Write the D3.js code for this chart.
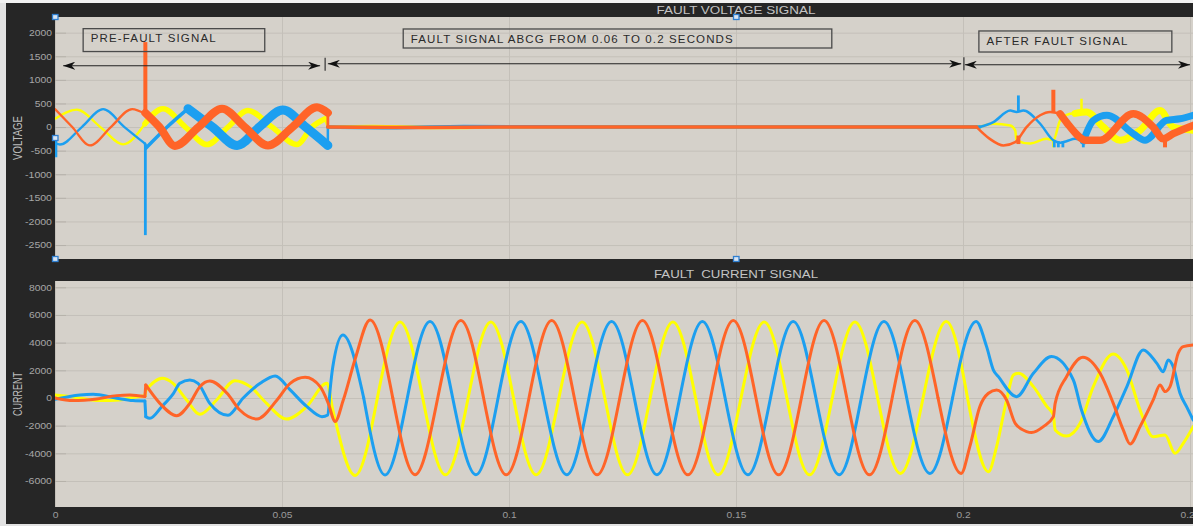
<!DOCTYPE html>
<html><head><meta charset="utf-8">
<script src="https://cdn.jsdelivr.net/npm/d3@7"></script>
<style>
body{margin:0;background:#262626;overflow:hidden}
svg{display:block;font-family:"Liberation Sans",Arial,sans-serif}
</style></head>
<body><svg id="c" width="1193" height="526"></svg>
<script>
// ---------------- tick labels ----------------
const timeTicks = [0, 0.05, 0.1, 0.15, 0.2, 0.25];
const voltTicks = [2000, 1500, 1000, 500, 0, -500, -1000, -1500, -2000, -2500];
const currTicks = [8000, 6000, 4000, 2000, 0, -2000, -4000, -6000];

// ---------------- voltage (time s, volts) ----------------
const voltY_pre   = [[0,175],[0.0048,370],[0.0100,0],[0.0150,-365],[0.0198,70]];
const voltY_dist  = [[0.0198,70],[0.0238,390],[0.0287,0],[0.0335,-370],[0.0381,0],[0.0425,350],[0.0478,0],[0.0533,-370],[0.0566,0],[0.0595,175]];
const voltY_fault = [[0.0601,0],[0.0700,12],[0.0850,-12],[0.1000,5],[0.1500,0],[0.2037,0]];
const voltY_post1 = [[0.2037,0],[0.2067,70],[0.2104,35],[0.2115,-70],[0.2118,-280],[0.2148,-350],[0.2184,-250],[0.2199,-280],[0.2214,140],[0.2236,280],[0.2247,290]];
const voltY_post2 = [[0.2247,290],[0.2272,320],[0.2309,0],[0.2346,-280],[0.2390,-70],[0.2434,350],[0.2463,0],[0.2507,-70]];
const voltY_spikes = [[[0.2199,-250],[0.2199,-430]],[[0.2261,300],[0.2261,600]]];

const voltB_pre   = [[0,-340],[0.0011,-370],[0.0059,0],[0.0106,380],[0.0153,0],[0.0198,-350]];
const voltB_dist1 = [[0.0200,-450],[0.0247,0],[0.0293,390]];
const voltB_dist2 = [[0.0293,390],[0.0347,0],[0.0401,-390],[0.0450,0],[0.0502,360],[0.0552,0],[0.0601,-390]];
const voltB_fault = [[0.0601,0],[0.0750,-15],[0.0900,12],[0.1200,0],[0.2037,0]];
const voltB_post1 = [[0.2037,0],[0.2067,105],[0.2104,350],[0.2118,320],[0.2133,350],[0.2170,70],[0.2199,-280],[0.2214,-330],[0.2228,-300],[0.2247,-250],[0.2265,-300]];
const voltB_post2 = [[0.2265,-300],[0.2287,140],[0.2317,250],[0.2375,-140],[0.2401,-280],[0.2448,140],[0.2478,175],[0.2507,250]];
const voltB_spikes = [[[0.0002,-640],[0.0002,-250]],[[0.0199,-350],[0.0199,-2290]],[[0.2122,330],[0.2122,670]],[[0.2201,-280],[0.2201,-430]],[[0.2210,-300],[0.2210,-430]],[[0.2220,-300],[0.2220,-430]],[[0.2265,-250],[0.2265,-430]]];

const voltO_pre   = [[0,380],[0.0038,0],[0.0077,-390],[0.0123,0],[0.0170,380],[0.0198,280]];
const voltO_dist  = [[0.0199,300],[0.0230,0],[0.0264,-400],[0.0316,0],[0.0368,390],[0.0418,0],[0.0469,-390],[0.0523,0],[0.0577,420],[0.0601,300]];
const voltO_fault = [[0.0601,0],[0.0800,-8],[0.1000,0],[0.1500,0],[0.2030,0]];
const voltO_post1 = [[0.2030,0],[0.2059,-250],[0.2089,-390],[0.2115,-320],[0.2140,0],[0.2170,250],[0.2192,320],[0.2214,280]];
const voltO_post2 = [[0.2214,280],[0.2228,100],[0.2272,-280],[0.2302,-280],[0.2375,280],[0.2419,0],[0.2441,-250],[0.2463,-140],[0.2507,35]];
const voltO_spikes = [[[0.0199,280],[0.0199,1800]],[[0.2122,-180],[0.2122,-360]],[[0.2199,320],[0.2199,790]],[[0.2445,-250],[0.2445,-430]]];

// ---------------- current (time s, amperes) ----------------
const currY_pre   = [[0,220],[0.0033,100],[0.0099,-190],[0.0143,-145],[0.0172,50],[0.0198,145]];
const currY_dist  = [[0.0200,580],[0.0236,1420],[0.0260,1060],[0.0290,-145],[0.0319,-1180],[0.0356,-145],[0.0396,1250],[0.0430,820],[0.0466,-390],[0.0510,-1520],[0.0554,-630],[0.0599,1060],[0.0612,-870],[0.0661,-5600],[0.0710,0]];
const currY_fault = [[0.0710,0],[0.0760,5500],[0.0810,0],[0.0860,-5550],[0.0910,0],[0.0960,5500],[0.1010,0],[0.1060,-5550],[0.1110,0],[0.1161,5500],[0.1211,0],[0.1261,-5550],[0.1311,0],[0.1361,5500],[0.1411,0],[0.1461,-5550],[0.1511,0],[0.1562,5500],[0.1612,0],[0.1662,-5550],[0.1712,0],[0.1762,5500],[0.1812,0],[0.1862,-5450],[0.1912,0],[0.1963,5520],[0.2010,0]];
const currY_post  = [[0.2010,0],[0.2015,-870],[0.2056,-5330],[0.2074,-3520],[0.2096,-145],[0.2111,1660],[0.2122,1780],[0.2155,820],[0.2185,-630],[0.2199,-1230],[0.2203,-2310],[0.2228,-2750],[0.2258,-1830],[0.2287,820],[0.2331,3180],[0.2361,2020],[0.2390,-870],[0.2419,-2800],[0.2445,-2670],[0.2467,-4000],[0.2485,-3280],[0.2507,-2070]];

const currB_pre   = [[0,-100],[0.0055,220],[0.0084,265],[0.0136,-25],[0.0172,-190],[0.0198,-220]];
const currB_dist  = [[0.0200,-1350],[0.0209,-1470],[0.0235,-630],[0.0261,340],[0.0275,1060],[0.0297,1300],[0.0315,1060],[0.0341,-390],[0.0381,-1250],[0.0414,-20],[0.0452,1060],[0.0485,1590],[0.0518,580],[0.0555,-630],[0.0588,-1350],[0.0601,-1230],[0.0606,600],[0.0612,2270],[0.0634,4550],[0.0680,0]];
const currB_fault = [[0.0680,0],[0.0727,-5570],[0.0776,0],[0.0826,5520],[0.0876,0],[0.0927,-5550],[0.0976,0],[0.1026,5520],[0.1076,0],[0.1127,-5550],[0.1176,0],[0.1226,5520],[0.1276,0],[0.1326,-5550],[0.1376,0],[0.1426,5520],[0.1476,0],[0.1526,-5550],[0.1576,0],[0.1626,5520],[0.1676,0],[0.1727,-5550],[0.1776,0],[0.1826,5520],[0.1876,0],[0.1927,-5450],[0.1977,0]];
const currB_post  = [[0.1977,0],[0.2029,5520],[0.2052,3710],[0.2067,2020],[0.2078,1540],[0.2118,95],[0.2155,1780],[0.2195,2990],[0.2243,1300],[0.2261,-870],[0.2298,-3150],[0.2331,-1350],[0.2361,820],[0.2397,3470],[0.2427,2500],[0.2441,1900],[0.2452,2750],[0.2463,2270],[0.2478,340],[0.2493,-660],[0.2507,-1590]];

const currO_pre   = [[0,0],[0.0040,-190],[0.0092,-70],[0.0136,170],[0.0165,220],[0.0198,100]];
const currO_dist  = [[0.0200,940],[0.0231,-390],[0.0268,-1280],[0.0297,-390],[0.0319,820],[0.0341,1230],[0.0379,340],[0.0407,-870],[0.0445,-1520],[0.0489,-150],[0.0518,1060],[0.0551,1490],[0.0584,820],[0.0602,-390],[0.0617,-1700],[0.0635,-150],[0.0661,2800],[0.0694,5640],[0.0744,0]];
const currO_fault = [[0.0744,0],[0.0793,-5550],[0.0843,0],[0.0894,5600],[0.0944,0],[0.0994,-5550],[0.1044,0],[0.1094,5600],[0.1144,0],[0.1194,-5550],[0.1244,0],[0.1294,5600],[0.1344,0],[0.1394,-5550],[0.1444,0],[0.1494,5600],[0.1544,0],[0.1594,-5550],[0.1644,0],[0.1694,5600],[0.1744,0],[0.1794,-5550],[0.1844,0],[0.1894,5600],[0.1945,0]];
const currO_post  = [[0.1945,0],[0.1996,-5450],[0.2015,-3520],[0.2037,-630],[0.2056,340],[0.2074,580],[0.2096,-145],[0.2115,-1830],[0.2140,-2430],[0.2151,-2500],[0.2177,-2070],[0.2199,-1350],[0.2203,-390],[0.2228,1540],[0.2264,2940],[0.2302,1780],[0.2331,-390],[0.2353,-2310],[0.2368,-3330],[0.2390,-2070],[0.2419,-145],[0.2434,940],[0.2445,460],[0.2456,820],[0.2474,3230],[0.2485,3710],[0.2507,3830]];

// ---------------- annotation texts ----------------
const noteTexts = ["PRE-FAULT SIGNAL", "FAULT SIGNAL ABCG FROM 0.06 TO 0.2 SECONDS", "AFTER FAULT SIGNAL"];

// =================== drawing ===================
const W = 1193, H = 526;
const COL = {y:"#ffff00", b:"#1c9ff0", o:"#ff6428"};
const svg = d3.select("#c");
svg.append("rect").attr("width",W).attr("height",H).attr("fill","#262626");
svg.append("rect").attr("x",0).attr("y",0).attr("width",6).attr("height",H).attr("fill","#e2e2e2");
svg.append("rect").attr("x",0).attr("y",0).attr("width",W).attr("height",3).attr("fill","#f2f2f2");
svg.append("rect").attr("x",0).attr("y",524).attr("width",W).attr("height",2).attr("fill","#e2e2e2");

const x = d3.scaleLinear().domain([0,0.25]).range([55,1190]);
const PL = 55, PR = 1200;

// width of a tick label in the (horizontally stretched) reference
const labW = s => { let w = 0; for (const ch of s) w += (ch === "." ? 2.6 : ch === "-" ? 4 : 5.75); return w; };

const defs = svg.append("defs");
defs.append("marker").attr("id","arr").attr("viewBox","0 0 12 8").attr("refX",12).attr("refY",4)
  .attr("markerWidth",12).attr("markerHeight",8).attr("markerUnits","userSpaceOnUse")
  .attr("orient","auto-start-reverse")
  .append("path").attr("d","M0,0 L12,4 L0,8 L3.5,4 Z").attr("fill","#111");

function panel(top, bottom, domain, ticks, title, label, id){
  const y = d3.scaleLinear().domain(domain).range([bottom, top]);
  const g = svg.append("g");
  g.append("rect").attr("x",PL).attr("y",top).attr("width",PR-PL).attr("height",bottom-top).attr("fill","#d5d1ca");
  // grid
  const gy = g.append("g").attr("transform",`translate(${PL},0)`)
    .call(d3.axisLeft(y).tickValues(ticks).tickSize(-(PR-PL)).tickFormat(""));
  gy.select(".domain").remove();
  gy.selectAll("line").attr("stroke","#c4c0b9").attr("stroke-width",1);
  const gx = g.append("g").attr("transform",`translate(0,${bottom})`)
    .call(d3.axisBottom(x).tickValues(timeTicks).tickSize(-(bottom-top)).tickFormat(""));
  gx.select(".domain").remove();
  gx.selectAll("line").attr("stroke","#c4c0b9").attr("stroke-width",1);
  // inner tick marks
  const tk = g.append("g").attr("transform",`translate(${PL},0)`)
    .call(d3.axisRight(y).tickValues(ticks).tickSize(11).tickFormat(""));
  tk.select(".domain").remove();
  tk.selectAll("line").attr("stroke","#b6b2ab");
  // labels
  const ly = svg.append("g").attr("transform",`translate(${PL},0)`)
    .call(d3.axisLeft(y).tickValues(ticks).tickSize(0).tickPadding(3).tickFormat(d=>String(d)));
  ly.select(".domain").remove();
  ly.selectAll("text").attr("fill","#a6a6a6").attr("font-size","8.6px")
    .attr("font-family","Liberation Sans, Arial, sans-serif")
    .attr("textLength",d=>labW(String(d))).attr("lengthAdjust","spacingAndGlyphs");
  // clip
  defs.append("clipPath").attr("id","clip"+id).append("rect")
    .attr("x",PL).attr("y",top).attr("width",PR-PL).attr("height",bottom-top);
  // title
  svg.append("text").attr("x",736).attr("y",top-3.5).attr("text-anchor","middle")
    .attr("fill","#c4c4c4").attr("font-size","10px").style("white-space","pre")
    .attr("textLength", id===0?159:164).attr("lengthAdjust","spacingAndGlyphs").text(title);
  // y label
  svg.append("text").attr("transform",`translate(22,${(top+bottom)/2}) rotate(-90)`)
    .attr("text-anchor","middle").attr("fill","#bdbdbd").attr("font-size","12.5px")
    .attr("textLength",44).attr("lengthAdjust","spacingAndGlyphs").text(label);
  const lines = svg.append("g").attr("clip-path",`url(#clip${id})`);
  return {y, lines};
}

const P1 = panel(17, 259, [-2796, 2332], voltTicks, "FAULT VOLTAGE SIGNAL", "VOLTAGE", 0);
const P2 = panel(281, 507, [-7880, 8455], currTicks, "FAULT  CURRENT SIGNAL", "CURRENT", 1);

// x tick labels
const lx = svg.append("g").attr("transform","translate(0,507)")
  .call(d3.axisBottom(x).tickValues(timeTicks).tickSize(0).tickPadding(4).tickFormat(d=>String(d)));
lx.select(".domain").remove();
lx.selectAll("text").attr("fill","#9c9c9c").attr("font-size","8.6px").attr("dy","0.78em")
  .attr("font-family","Liberation Sans, Arial, sans-serif")
  .attr("textLength",d=>labW(String(d))).attr("lengthAdjust","spacingAndGlyphs");

function drawPhase(P, segs, color, connW){
  const lin = d3.line().x(d=>x(d[0])).y(d=>P.y(d[1]));
  segs.forEach((s,i)=>{
    if(i>0){
      const prev = segs[i-1].d, a = prev[prev.length-1], b = s.d[0];
      if(a[0]!==b[0] || a[1]!==b[1])
        P.lines.append("path").attr("d",lin([a,b])).attr("fill","none").attr("stroke",color)
          .attr("stroke-width",connW).attr("stroke-linecap","round");
    }
    const ln = d3.line().curve(s.c).x(d=>x(d[0])).y(d=>P.y(d[1]));
    P.lines.append("path").attr("d",ln(s.d)).attr("fill","none").attr("stroke",color)
      .attr("stroke-width",s.w).attr("stroke-linejoin","round").attr("stroke-linecap","round");
  });
}
function drawSpikes(P, spikes, color, w){
  const lin = d3.line().x(d=>x(d[0])).y(d=>P.y(d[1]));
  spikes.forEach(s=>P.lines.append("path").attr("d",lin(s)).attr("fill","none")
    .attr("stroke",color).attr("stroke-width",w).attr("stroke-linecap","butt"));
}
const M = d3.curveMonotoneX, N = d3.curveNatural;

// voltage
drawPhase(P1, [{d:voltY_pre,c:M,w:2.3},{d:voltY_dist,c:M,w:5.5},{d:voltY_fault,c:M,w:3.5},{d:voltY_post1,c:M,w:2.5},{d:voltY_post2,c:M,w:7}], COL.y, 2.5);
drawSpikes(P1, voltY_spikes, COL.y, 2.5);
drawPhase(P1, [{d:voltB_pre,c:M,w:2.3},{d:voltB_dist1,c:M,w:3.5},{d:voltB_dist2,c:M,w:9},{d:voltB_fault,c:M,w:3.5},{d:voltB_post1,c:M,w:2.5},{d:voltB_post2,c:M,w:7}], COL.b, 2.5);
drawSpikes(P1, voltB_spikes, COL.b, 2.8);
drawPhase(P1, [{d:voltO_pre,c:M,w:2.3},{d:voltO_dist,c:M,w:8},{d:voltO_fault,c:M,w:3.5},{d:voltO_post1,c:M,w:2.5},{d:voltO_post2,c:M,w:7.5}], COL.o, 2.8);
drawSpikes(P1, voltO_spikes, COL.o, 4);

// current
drawPhase(P2, [{d:currY_pre,c:M,w:3},{d:currY_dist,c:M,w:3},{d:currY_fault,c:N,w:3},{d:currY_post,c:M,w:3}], COL.y, 3);
drawPhase(P2, [{d:currB_pre,c:M,w:3},{d:currB_dist,c:M,w:3},{d:currB_fault,c:N,w:3},{d:currB_post,c:M,w:3}], COL.b, 3);
drawPhase(P2, [{d:currO_pre,c:M,w:3},{d:currO_dist,c:M,w:3},{d:currO_fault,c:N,w:3},{d:currO_post,c:M,w:3}], COL.o, 3);

// annotations (positions in data units of the voltage panel)
const vy = P1.y;
const boxes = [
  {t0:0.0062, t1:0.0462, v0:2085, v1:1600, len:125},
  {t0:0.0767, t1:0.1711, v0:2078, v1:1675, len:322},
  {t0:0.2035, t1:0.2460, v0:2036, v1:1590, len:141}
];
const ann = svg.append("g");
boxes.forEach((b,i)=>{
  ann.append("rect").attr("x",x(b.t0)).attr("y",vy(b.v0)).attr("width",x(b.t1)-x(b.t0))
    .attr("height",vy(b.v1)-vy(b.v0)).attr("fill","none").attr("stroke","#4a4a4a").attr("stroke-width",1.3);
  ann.append("text").attr("x",x(b.t0)+7.5).attr("y",vy(b.v0)+ (i===0?13.5:14)).attr("fill","#2a2a2a")
    .attr("font-size","11.5px").attr("textLength",b.len).attr("lengthAdjust","spacing").text(noteTexts[i]);
});
const arrows = [{t0:0.0018,t1:0.0584,v:1300},{t0:0.0601,t1:0.1996,v:1340},{t0:0.2004,t1:0.2500,v:1320}];
arrows.forEach(a=>{
  ann.append("line").attr("x1",x(a.t0)).attr("x2",x(a.t1)).attr("y1",vy(a.v)).attr("y2",vy(a.v))
    .attr("stroke","#222").attr("stroke-width",1.1)
    .attr("marker-start","url(#arr)").attr("marker-end","url(#arr)");
});
[{t:0.0595,v:1320},{t:0.2002,v:1330}].forEach(b=>{
  ann.append("line").attr("x1",x(b.t)).attr("x2",x(b.t)).attr("y1",vy(b.v)-7).attr("y2",vy(b.v)+6)
    .attr("stroke","#333").attr("stroke-width",1.2);
});

// selection handles of the upper axes
[[0,2332],[0,-232],[0,-2796],[0.15,2332],[0.15,-2796]].forEach(p=>{
  svg.append("rect").attr("x",x(p[0])-2.5).attr("y",vy(p[1])-2.5).attr("width",5.5).attr("height",5)
    .attr("fill","#d6e4f4").attr("stroke","#2f7fd0").attr("stroke-width",1.3);
});
</script></body></html>
